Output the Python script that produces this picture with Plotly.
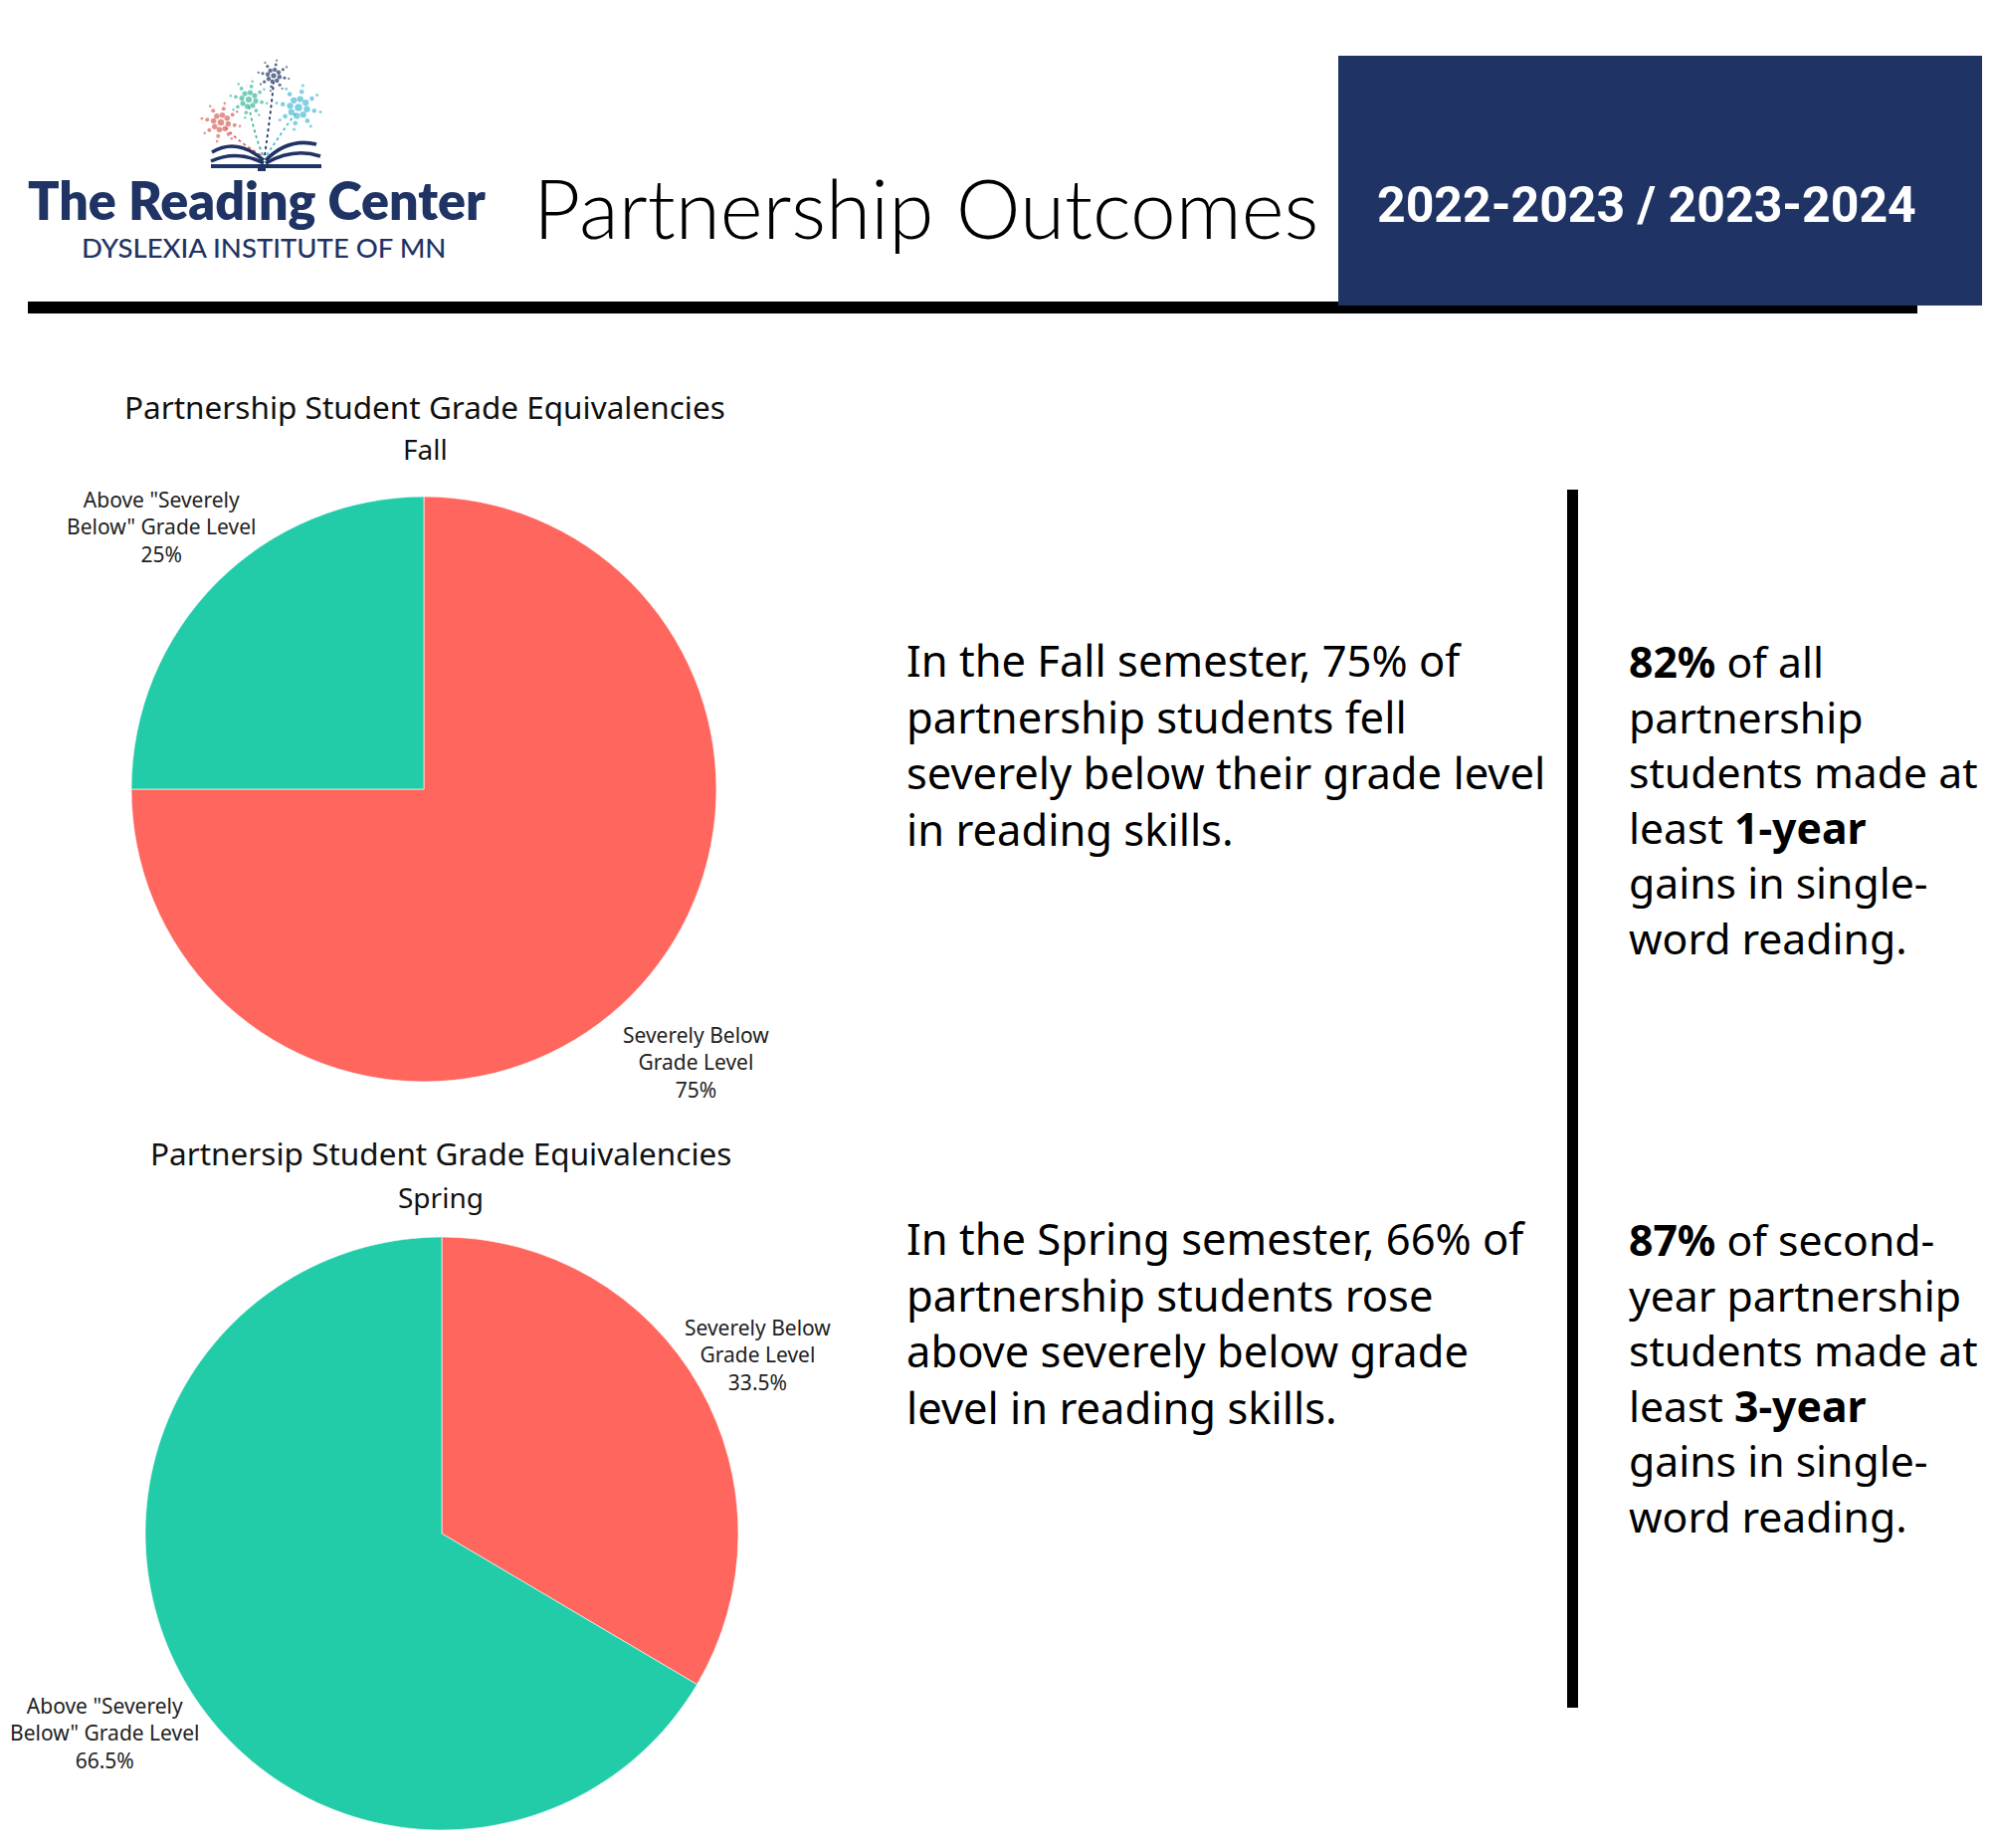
import numpy as np
import plotly.graph_objects as go

# ---- data ----
CATEGORIES = ["Severely Below<br>Grade Level", 'Above "Severely<br>Below" Grade Level']
FALL_PCT = [75, 25]
SPRING_PCT = [33.5, 66.5]
SLICE_COLORS = ["#FF665E", "#22CCA8"]

FALL_TITLE = "Partnership Student Grade Equivalencies"
SPRING_TITLE = "Partnersip Student Grade Equivalencies"

FALL_TEXT = ["In the Fall semester, 75% of",
             "partnership students fell",
             "severely below their grade level",
             "in reading skills."]
SPRING_TEXT = ["In the Spring semester, 66% of",
               "partnership students rose",
               "above severely below grade",
               "level in reading skills."]
GAIN_1 = ["<b>82%</b> of all",
          "partnership",
          "students made at",
          "least <b>1-year</b>",
          "gains in single-",
          "word reading."]
GAIN_3 = ["<b>87%</b> of second-",
          "year partnership",
          "students made at",
          "least <b>3-year</b>",
          "gains in single-",
          "word reading."]

# page is drawn in screen pixels; the html body adds an 8px margin
OFF = 8
W, H = 1992, 1836
NAVY = "#1F3464"
BODY = "Noto Sans"


def dom_x(a, b):
    return [(a - OFF) / W, (b - OFF) / W]


def dom_y(top, bottom):
    return [1 - (bottom - OFF) / H, 1 - (top - OFF) / H]


fig = go.Figure()

# pies (labels are placed as annotations below)
pie_style = dict(sort=False, direction="clockwise", rotation=0, textinfo="none",
                 marker=dict(colors=SLICE_COLORS, line=dict(color="rgba(255,255,255,0.6)", width=1)),
                 showlegend=False, hoverinfo="label+percent")
fig.add_trace(go.Pie(labels=CATEGORIES, values=FALL_PCT,
                     domain=dict(x=dom_x(132, 720), y=dom_y(499, 1087)), **pie_style))
fig.add_trace(go.Pie(labels=CATEGORIES, values=SPRING_PCT,
                     domain=dict(x=dom_x(146, 742), y=dom_y(1243, 1839)), **pie_style))


# logo: fireworks over an open book
def star(cx, cy, color, s):
    xs, ys, sz = [cx], [cy], [6.5 * s]
    for k in range(8):
        a = np.pi / 4 * k + 0.2
        for d, m in ((7.5 * s, 5.5 * s), (14 * s, 4 * s), (19.5 * s, 2.6 * s)):
            xs.append(cx + d * np.cos(a))
            ys.append(cy + d * np.sin(a))
            sz.append(m)
    fig.add_trace(go.Scatter(x=xs, y=ys, mode="markers", hoverinfo="skip", showlegend=False,
                             marker=dict(size=sz, color=color, line=dict(width=0))))


trails = [((262, 156), (236, 140), (226, 127), "#D9625E"),
          ((264, 156), (254, 130), (250, 105), "#3DB89A"),
          ((266, 156), (272, 115), (275, 83), NAVY),
          ((268, 156), (285, 130), (297, 114), "#4CBCD6")]
shapes = []
for (x0, y0), (qx, qy), (x1, y1), c in trails:
    shapes.append(dict(type="path", xref="x", yref="y",
                       path=f"M {x0},{y0} Q {qx},{qy} {x1},{y1}",
                       line=dict(color=c, width=1.8, dash="dot")))
star(222, 123, "#D9625E", 1.0)
star(250, 100, "#3DB89A", 0.95)
star(300, 108, "#4CBCD6", 1.15)
star(275, 76, NAVY, 0.8)

book = ["M 213,153 Q 238,138 265,161",
        "M 212,162 Q 238,150 265,164",
        "M 267,161 Q 290,138 318,145",
        "M 267,164 Q 295,148 322,157"]
for p in book:
    shapes.append(dict(type="path", xref="x", yref="y", path=p,
                       line=dict(color=NAVY, width=3.5)))
shapes.append(dict(type="rect", xref="x", yref="y", x0=212, x1=323, y0=165, y1=169,
                   fillcolor=NAVY, line_width=0))
shapes.append(dict(type="rect", xref="x", yref="y", x0=259, x1=267, y0=165, y1=172,
                   fillcolor=NAVY, line_width=0))

# header rule, year box, column divider
shapes.append(dict(type="rect", xref="x", yref="y", x0=28, x1=1927, y0=303, y1=315,
                   fillcolor="black", line_width=0))
shapes.append(dict(type="rect", xref="x", yref="y", x0=1345, x1=2000, y0=56, y1=307,
                   fillcolor=NAVY, line_width=0))
shapes.append(dict(type="rect", xref="x", yref="y", x0=1575, x1=1586, y0=492, y1=1716,
                   fillcolor="black", line_width=0))

ann = []


def note(x, y, text, size, color="black", family=BODY, weight=400, xanchor="left", align="left"):
    ann.append(dict(x=x, y=y, xref="x", yref="y", text=text, showarrow=False,
                    xanchor=xanchor, yanchor="middle", align=align,
                    font=dict(family=family, size=size, color=color, weight=weight)))


note(26, 201, "The Reading Center", 52, NAVY, "Lato", 800)
note(265, 248, "DYSLEXIA INSTITUTE OF MN", 27.5, NAVY, "Lato", 500, xanchor="center")
note(534, 208, "Partnership Outcomes", 82, "black", "Lato", 300)
note(1655, 206, "2022-2023 / 2023-2024", 50, "white", "Roboto", 700, xanchor="center")

note(427, 408, FALL_TITLE, 31.5, "#111", xanchor="center")
note(427, 451, "Fall", 28, "#111", xanchor="center")
note(443, 1158, SPRING_TITLE, 31.5, "#111", xanchor="center")
note(443, 1203, "Spring", 28, "#111", xanchor="center")

# slice labels built from the data
lab = "{}<br>{}%"
note(699, 1067, lab.format(CATEGORIES[0], FALL_PCT[0]), 21, "#222", xanchor="center", align="center")
note(162, 529, lab.format(CATEGORIES[1], FALL_PCT[1]), 21, "#222", xanchor="center", align="center")
note(761, 1361, lab.format(CATEGORIES[0], SPRING_PCT[0]), 21, "#222", xanchor="center", align="center")
note(105, 1741, lab.format(CATEGORIES[1], SPRING_PCT[1]), 21, "#222", xanchor="center", align="center")

note(909, 748, "<br>".join(FALL_TEXT), 43.5)
note(1635, 803, "<br>".join(GAIN_1), 42.7)
note(909, 1329, "<br>".join(SPRING_TEXT), 43.5)
note(1635, 1384, "<br>".join(GAIN_3), 42.7)

fig.update_layout(
    width=W, height=H,
    margin=dict(l=0, r=0, t=0, b=0, autoexpand=False),
    paper_bgcolor="white", plot_bgcolor="white",
    xaxis=dict(range=[OFF, OFF + W], domain=[0, 1], visible=False, fixedrange=True),
    yaxis=dict(range=[OFF + H, OFF], domain=[0, 1], visible=False, fixedrange=True),
    shapes=shapes, annotations=ann,
)

fig.write_html("out.html")
